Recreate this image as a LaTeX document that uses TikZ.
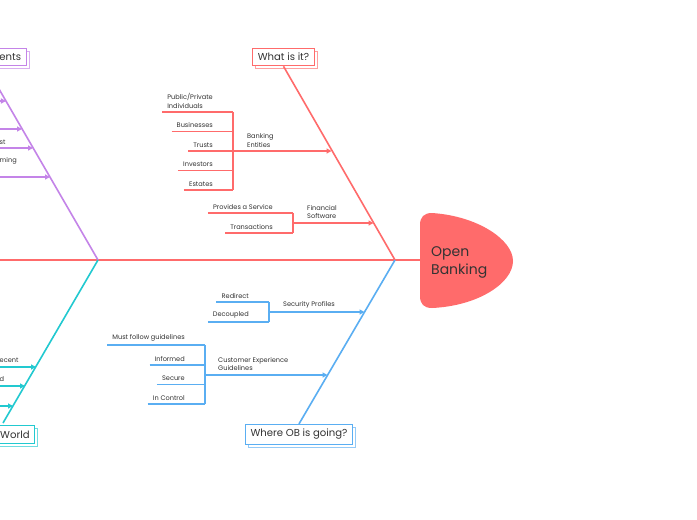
\documentclass[tikz,border=0pt]{standalone}
\usepackage{fontspec}
\setmainfont{Poppins}
\usetikzlibrary{arrows.meta,shadows}
\definecolor{cred}{HTML}{FF6B6B}
\definecolor{cblue}{HTML}{5AAEF2}
\definecolor{cpurple}{HTML}{C484E8}
\definecolor{ccyan}{HTML}{22C9D0}
\definecolor{txt}{HTML}{333333}
\newcommand\bitem[5]{% name, colour, text, bracket x, line y
  \node[lbl, anchor=south east] (#1) at (#4-20,#5-3.5) {#3};
  \path (#1.west) ++(-5,0) coordinate (#1l);
  \draw[twig,#2] (#1l |- 0,#5) -- (#4,#5);
}
\begin{document}
\begin{tikzpicture}[x=1pt,y=-1pt,
  lbl/.style={font=\fontsize{6.6}{8.4}\selectfont, text=txt, inner sep=0pt, align=left},
  bone/.style={line width=1.6pt},
  twig/.style={line width=1.2pt},
  arr/.style={line width=1.2pt,-{Triangle[length=5pt,width=5pt]}},
  catbox/.style={draw=#1, fill=white, line width=0.8pt, text=txt,
    font=\fontsize{10.1}{12}\selectfont, inner xsep=5pt, inner ysep=5pt,
    copy shadow={shadow xshift=3pt,shadow yshift=-3pt,draw=#1!65,fill=white,line width=0.8pt}},
  ]
\useasboundingbox (0,0) rectangle (697,520);
\fill[white] (0,0) rectangle (697,520);

% spine and head
\coordinate (s0) at (98,260);
\coordinate (s1) at (395,260);
\fill[cred] (432,213) .. controls (478,216) and (513,240) .. (513,261)
  .. controls (513,283) and (478,306) .. (432,308)
  .. controls (424,308) and (420,304) .. (420,296) -- (420,225)
  .. controls (420,217) and (424,213) .. (432,213);
\coordinate (head) at (420,260);
\coordinate (sl) at (-5,260);
\node[anchor=west, text=txt, align=left, inner sep=0pt,
  font=\fontsize{14}{18}\selectfont] (title) at (431,262.5) {Open\\Banking};
\draw[cred, line width=2pt] (sl) -- (head);

% ---- What is it? (red)
\node[catbox=cred] (q1) at (283.5,57) {What is it?};
\draw[bone,cred] (q1.south) -- (s1);
\coordinate (b1) at (233,151);
\coordinate (b1e) at (331.5,151);
\bitem{r1}{cred}{Public/Private\\Individuals}{233}{112}
\bitem{r2}{cred}{Businesses}{233}{131.5}
\bitem{r3}{cred}{Trusts}{233}{151}
\bitem{r4}{cred}{Investors}{233}{170.5}
\bitem{r5}{cred}{Estates}{233}{190}
\draw[twig,cred] (233,112) -- (233,190);
\draw[arr,cred] (b1) -- (b1e);
\node[lbl, anchor=south west] (l1) at (247,147.5) {Banking\\Entities};

\coordinate (b2) at (293,223);
\coordinate (b2e) at (373.5,223);
\bitem{r6}{cred}{Provides a Service}{293}{213}
\bitem{r7}{cred}{Transactions}{293}{233}
\draw[twig,cred] (293,213) -- (293,233);
\draw[arr,cred] (b2) -- (b2e);
\node[lbl, anchor=south west] (l2) at (307,219) {Financial\\Software};

% ---- Where OB is going? (blue)
\node[catbox=cblue] (q2) at (299,434.5) {Where OB is going?};
\draw[bone,cblue] (q2.north) -- (s1);
\coordinate (b3) at (269,312);
\coordinate (b3e) at (364.5,312);
\bitem{u1}{cblue}{Redirect}{269}{302}
\bitem{u2}{cblue}{Decoupled}{269}{322}
\draw[twig,cblue] (269,302) -- (269,322);
\draw[arr,cblue] (b3) -- (b3e);
\node[lbl, anchor=south west] (l3) at (283,308) {Security Profiles};

\coordinate (b4) at (205,375);
\coordinate (b4e) at (327.5,375);
\bitem{u3}{cblue}{Must follow guidelines}{205}{345}
\bitem{u4}{cblue}{Informed}{205}{365}
\bitem{u5}{cblue}{Secure}{205}{384.5}
\bitem{u6}{cblue}{In Control}{205}{404}
\draw[twig,cblue] (205,345) -- (205,404);
\draw[arr,cblue] (b4) -- (b4e);
\node[lbl, anchor=south west] (l4) at (218,371) {Customer Experience\\Guidelines};

% ---- left (purple) bone
\node[catbox=cpurple, anchor=east] (q3) at (26.5,57) {ents};
\coordinate (p0) at (-12,70);
\draw[bone,cpurple] (p0) -- (s0);
\coordinate (pa1) at (-10,101);  \coordinate (pa1e) at (6,101);
\coordinate (pa2) at (-10,129);  \coordinate (pa2e) at (22,129);
\coordinate (pa3) at (-10,148);  \coordinate (pa3e) at (33,148);
\coordinate (pa4) at (-10,177);  \coordinate (pa4e) at (50,177);
\draw[arr,cpurple] (pa1) -- (pa1e);
\draw[arr,cpurple] (pa2) -- (pa2e);
\draw[arr,cpurple] (pa3) -- (pa3e);
\draw[arr,cpurple] (pa4) -- (pa4e);
\node[lbl, anchor=south west] (pl1) at (-0.5,144.5) {st};
\node[lbl, anchor=south west] (pl2) at (-0.5,164) {ming};

% ---- left (cyan) bone
\node[catbox=ccyan, anchor=east] (q4) at (35,434.5) {World};
\coordinate (c0) at (3,423);
\draw[bone,ccyan] (c0) -- (s0);
\coordinate (ca1) at (-10,367);  \coordinate (ca1e) at (36,367);
\coordinate (ca2) at (-10,386);  \coordinate (ca2e) at (25,386);
\coordinate (ca3) at (-10,406);  \coordinate (ca3e) at (13,406);
\draw[arr,ccyan] (ca1) -- (ca1e);
\draw[arr,ccyan] (ca2) -- (ca2e);
\draw[arr,ccyan] (ca3) -- (ca3e);
\node[lbl, anchor=south west] (cl1) at (-0.5,362.5) {ecent};
\node[lbl, anchor=south west] (cl2) at (-0.5,381.5) {d};
\end{tikzpicture}
\end{document}
